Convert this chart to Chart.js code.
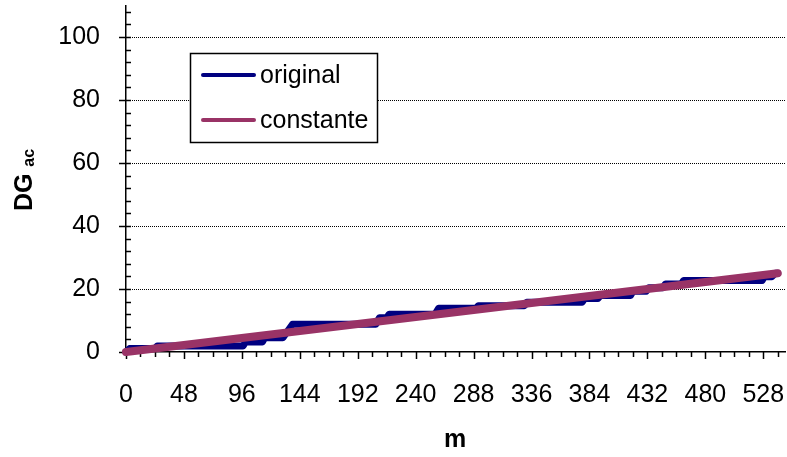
<!DOCTYPE html>
<html>
<head>
<meta charset="utf-8">
<script src="https://cdn.jsdelivr.net/npm/chart.js@4.4.1/dist/chart.umd.min.js"></script>
<style>
  html, body { margin: 0; padding: 0; background: #fff; }
  #wrap { width: 787px; height: 457px; }
</style>
</head>
<body>
<div id="wrap"><canvas id="c" width="787" height="457"></canvas></div>
<script>
// Cumulative DG_ac versus m: the recorded profile (steps) and the constant-rate profile
const origM  = [0, 3, 24, 26, 97, 99, 113, 115, 130, 138, 207, 210, 216, 218, 256, 259, 290, 292, 330, 332, 378, 380, 391, 393, 418, 420, 431, 433, 445, 447, 460, 462, 527, 529, 535, 538, 540];
const origDG = [0, 1.1, 1.1, 1.9, 1.9, 3.2, 3.2, 4.5, 4.5, 8.8, 8.8, 10.9, 10.9, 12.0, 12.0, 13.9, 13.9, 14.7, 14.7, 15.8, 15.8, 17.0, 17.0, 17.9, 17.9, 19.3, 19.3, 20.4, 20.4, 21.6, 21.6, 22.7, 22.7, 23.9, 23.9, 25.0, 25.0];
const constM  = [0, 540];
const constDG = [0, 25];

const seriesNames = ['original', 'constante'];
const xTicks = [0, 48, 96, 144, 192, 240, 288, 336, 384, 432, 480, 528];
const yTicks = [0, 20, 40, 60, 80, 100];
const xMinorStep = 12;
const yMinorStep = 4;
const xMax = 546;
const yMax = 110;

const FONT = '"Liberation Sans", Arial, sans-serif';
const BLUE = '#000080';
const PURPLE = '#993366';

const toPoints = (xs, ys) => xs.map((x, i) => ({ x: x, y: ys[i] }));

// Dotted gridlines and tick marks (minor inside, major crossing) along both axes
const axisDecor = {
  id: 'axisDecor',
  beforeDatasetsDraw(chart) {
    const { ctx, chartArea: a, scales: { x, y } } = chart;
    ctx.save();
    ctx.strokeStyle = '#000';
    ctx.lineWidth = 1;
    ctx.setLineDash([1, 1]);
    yTicks.forEach(v => {
      if (v === 0) return;
      const py = Math.round(y.getPixelForValue(v)) + 0.5;
      ctx.beginPath();
      ctx.moveTo(a.left, py);
      ctx.lineTo(a.right, py);
      ctx.stroke();
    });
    ctx.setLineDash([]);
    ctx.lineWidth = 1.5;
    // y-axis ticks
    for (let v = 0; v <= yMax; v += yMinorStep) {
      const py = Math.round(y.getPixelForValue(v)) + 0.5;
      const major = v % 20 === 0;
      ctx.beginPath();
      ctx.moveTo(major ? a.left - 7 : a.left, py);
      ctx.lineTo(a.left + 5, py);
      ctx.stroke();
    }
    // x-axis ticks
    for (let v = 0; v <= xMax; v += xMinorStep) {
      const px = Math.round(x.getPixelForValue(v)) + 0.5;
      const major = v % 48 === 0;
      ctx.beginPath();
      ctx.moveTo(px, a.bottom);
      ctx.lineTo(px, a.bottom + (major ? 7 : 5));
      ctx.stroke();
    }
    ctx.restore();
  }
};

// Axis titles (with subscript) and the boxed legend
const labelsAndLegend = {
  id: 'labelsAndLegend',
  afterDraw(chart) {
    const { ctx } = chart;
    ctx.save();
    ctx.fillStyle = '#000';

    // x title
    ctx.font = 'bold 25px ' + FONT;
    ctx.textAlign = 'center';
    ctx.textBaseline = 'middle';
    ctx.fillText('m', 455, 440);

    // y title: DG with subscript ac, rotated
    ctx.translate(32, 180);
    ctx.rotate(-Math.PI / 2);
    ctx.textAlign = 'left';
    ctx.textBaseline = 'alphabetic';
    const mainFont = 'bold 25px ' + FONT;
    const subFont = 'bold 16px ' + FONT;
    ctx.font = mainFont;
    const wMain = ctx.measureText('DG ').width;
    ctx.font = subFont;
    const wSub = ctx.measureText('ac').width;
    const x0 = -(wMain + wSub) / 2;
    ctx.font = mainFont;
    ctx.fillText('DG ', x0, 0);
    ctx.font = subFont;
    ctx.fillText('ac', x0 + wMain, 2);
    ctx.setTransform(1, 0, 0, 1, 0, 0);

    // legend box
    const bx = 190.5, by = 53.5, bw = 187, bh = 89;
    ctx.fillStyle = '#fff';
    ctx.fillRect(bx, by, bw, bh);
    ctx.strokeStyle = '#000';
    ctx.lineWidth = 1.5;
    ctx.strokeRect(bx, by, bw, bh);
    const rows = [75, 120];
    chart.data.datasets.forEach((ds, i) => {
      const ly = rows[i];
      ctx.strokeStyle = ds.borderColor;
      ctx.lineWidth = 4;
      ctx.lineCap = 'round';
      ctx.beginPath();
      ctx.moveTo(203, ly);
      ctx.lineTo(254, ly);
      ctx.stroke();
      ctx.fillStyle = '#000';
      ctx.font = '25px ' + FONT;
      ctx.textAlign = 'left';
      ctx.textBaseline = 'middle';
      ctx.fillText(ds.label, 260, ly + 1);
    });
    ctx.restore();
  }
};

new Chart(document.getElementById('c'), {
  type: 'scatter',
  data: {
    datasets: [
      {
        label: seriesNames[0],
        data: toPoints(origM, origDG),
        showLine: true,
        borderColor: BLUE,
        backgroundColor: BLUE,
        borderWidth: 7,
        borderCapStyle: 'round',
        borderJoinStyle: 'round',
        pointRadius: 0,
        tension: 0,
        clip: false,
        order: 2
      },
      {
        label: seriesNames[1],
        data: toPoints(constM, constDG),
        showLine: true,
        borderColor: PURPLE,
        backgroundColor: PURPLE,
        borderWidth: 8,
        borderCapStyle: 'round',
        borderJoinStyle: 'round',
        pointRadius: 0,
        tension: 0,
        clip: false,
        order: 1
      }
    ]
  },
  options: {
    responsive: false,
    animation: false,
    events: [],
    layout: { padding: { top: 5.5, right: 2, left: 0, bottom: 0 } },
    plugins: {
      legend: { display: false },
      tooltip: { enabled: false },
      title: { display: false }
    },
    scales: {
      x: {
        type: 'linear',
        min: 0,
        max: xMax,
        afterBuildTicks: s => { s.ticks = xTicks.map(v => ({ value: v })); },
        afterFit: s => { s.height = 105; s.paddingLeft = 0; s.paddingRight = 0; },
        grid: { display: false, drawTicks: false },
        border: { display: true, color: '#000', width: 1.5 },
        ticks: {
          autoSkip: false,
          maxRotation: 0,
          padding: 28,
          color: '#000',
          font: { family: FONT, size: 25 }
        }
      },
      y: {
        type: 'linear',
        min: 0,
        max: yMax,
        afterBuildTicks: s => { s.ticks = yTicks.map(v => ({ value: v })); },
        afterFit: s => { s.width = 126; s.paddingTop = 0; s.paddingBottom = 0; },
        grid: { display: false, drawTicks: false },
        border: { display: true, color: '#000', width: 1.5 },
        ticks: {
          padding: 26,
          color: '#000',
          font: { family: FONT, size: 25 }
        }
      }
    }
  },
  plugins: [axisDecor, labelsAndLegend]
});
</script>
</body>
</html>
